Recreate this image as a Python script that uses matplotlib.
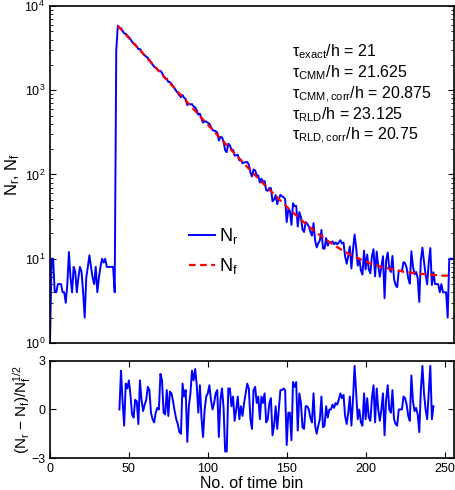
import numpy as np
import matplotlib.pyplot as plt

plt.rcParams['font.family'] = ['Liberation Sans', 'DejaVu Sans']
plt.rcParams['mathtext.fontset'] = 'custom'
plt.rcParams['mathtext.rm'] = 'Liberation Sans'
plt.rcParams['mathtext.it'] = 'Liberation Sans:italic'
plt.rcParams['mathtext.bf'] = 'Liberation Sans:bold'
plt.rcParams['axes.linewidth'] = 1.2

# N_r counts before the pulse, bins 0..41
nr_background = [1, 10, 10, 4, 4, 5, 5, 5, 4, 4,
                 3, 5, 12, 6, 4, 8, 7, 4, 6, 8,
                 7, 4, 2, 6, 8, 11, 8, 6, 5, 8,
                 4, 6, 8, 10, 9, 10, 8, 8, 8, 8,
                 8, 4]
# rising edge and peak, bins 42..43
nr_peak = [3000, 5840]
# N_r counts after the residual range, bins 244..255
nr_tail = [5, 5, 5, 4, 5, 4, 4, 4, 2, 10, 10, 10]

# fitted curve N_f, bins 43..255
nf_fit = [5800, 5531, 5274, 5029, 4796, 4573, 4361, 4158, 3965, 3781,
          3605, 3438, 3279, 3127, 2982, 2843, 2711, 2586, 2466, 2351,
          2242, 2138, 2038, 1944, 1854, 1768, 1686, 1608, 1534, 1463,
          1395, 1330, 1269, 1210, 1154, 1101, 1050, 1001, 955, 911,
          869, 829, 790, 754, 719, 686, 654, 624, 595, 568,
          542, 517, 493, 470, 449, 428, 409, 390, 372, 355,
          339, 323, 309, 294.5, 281.1, 268.3, 256.1, 244.5, 233.4, 222.8,
          212.8, 203.2, 194.0, 185.2, 176.9, 169.0, 161.4, 154.2, 147.3, 140.7,
          134.4, 128.5, 122.8, 117.4, 112.1, 107.2, 102.5, 98.0, 93.7, 89.6,
          85.7, 82.0, 78.5, 75.1, 71.9, 68.9, 65.9, 63.2, 60.5, 58.0,
          55.6, 53.3, 51.1, 49.0, 47.0, 45.0, 43.2, 41.5, 39.8, 38.3,
          36.8, 35.3, 34.0, 32.7, 31.4, 30.3, 29.1, 28.1, 27.0, 26.1,
          25.1, 24.2, 23.4, 22.6, 21.8, 21.1, 20.4, 19.7, 19.1, 18.5,
          17.9, 17.3, 16.8, 16.3, 15.8, 15.4, 14.9, 14.5, 14.1, 13.7,
          13.4, 13.0, 12.7, 12.4, 12.1, 11.8, 11.5, 11.3, 11.0, 10.8,
          10.6, 10.4, 10.2, 10.0, 9.8, 9.6, 9.4, 9.3, 9.1, 9.0,
          8.8, 8.7, 8.6, 8.5, 8.4, 8.2, 8.1, 8.0, 7.9, 7.9,
          7.8, 7.7, 7.6, 7.5, 7.5, 7.4, 7.3, 7.3, 7.2, 7.2,
          7.1, 7.0, 7.0, 7.0, 6.9, 6.9, 6.8, 6.8, 6.8, 6.7,
          6.7, 6.7, 6.6, 6.6, 6.6, 6.5, 6.5, 6.5, 6.5, 6.4,
          6.4, 6.4, 6.4, 6.4, 6.35, 6.3, 6.3, 6.3, 6.3, 6.3,
          6.3, 6.25, 6.2]

# residuals (N_r - N_f)/N_f^(1/2), bins 44..243
resid = [0.0, 2.4, 0.5, -1.0, 1.6, 1.3, 1.8, 0.9, -0.3, -0.5,
         0.6, 0.5, -0.9, 1.8, 0.6, -0.1, 0.3, 0.6, 1.4, 1.2,
         -0.2, -0.6, -0.8, -0.2, 0.1, 0.0, 2.2, 1.8, -0.2, -0.3,
         1.2, -0.4, 1.1, 1.0, 0.5, -0.1, -0.6, -0.9, -1.4, -1.5,
         1.6, 0.8, 1.2, -2.0, 0.2, 1.0, 2.4, 1.8, 2.5, 1.5,
         -0.2, 1.5, -0.5, -1.7, 0.0, 0.8, 1.0, 1.5, 0.6, 0.0,
         0.4, 1.0, 1.2, -1.7, 0.6, 1.3, 0.1, -2.6, -2.6, 1.3,
         1.3, 0.2, 0.8, -0.7, 0.0, 0.8, -0.6, 0.2, -0.4, 0.4,
         1.0, 1.6, 1.3, -0.6, -1.2, 1.2, 1.4, 0.4, 0.8, -0.6,
         0.8, 0.4, 1.0, -0.8, -0.6, 0.4, 0.7, -1.6, -1.0, 0.2,
         -1.2, 0.0, 1.2, 1.2, 1.3, 1.2, -2.2, -0.2, -0.2, -1.9,
         1.7, 1.4, 1.7, -1.3, 1.0, 0.4, -1.1, -1.2, 0.2, 0.2,
         0.0, -0.5, -0.8, 1.0, -1.0, -1.5, -1.0, -0.6, 0.8, -1.1,
         -1.0, 0.2, -0.5, 0.0, 0.0, 0.3, 0.1, 0.4, 0.3, 0.6,
         1.0, 0.7, 0.9, -0.4, -0.9, -0.2, 0.8, -1.0, 0.6, 2.7,
         1.0, -0.6, 0.0, -0.8, -1.0, 1.0, -0.6, 0.7, -0.5, -0.7,
         0.7, 1.5, -0.8, 1.3, 0.0, -0.7, 0.0, 1.0, -1.6, 0.6,
         1.5, 0.0, -0.2, 1.2, -0.6, -0.9, -1.0, 0.0, 0.0, 0.0,
         0.8, 0.7, 0.3, -0.4, -0.7, 2.1, 0.5, -0.1, 0.1, -0.3,
         -1.4, 1.2, 2.7, 1.0, 0.0, -0.6, 1.0, 2.7, -0.6, 0.2]

tau_labels = [r'τ$_{\mathrm{exact}}$/h = 21',
              r'τ$_{\mathrm{CMM}}$/h = 21.625',
              r'τ$_{\mathrm{CMM,corr}}$/h = 20.875',
              r'τ$_{\mathrm{RLD}}$/h = 23.125',
              r'τ$_{\mathrm{RLD,corr}}$/h = 20.75']

# N_r in the fitted range follows from the residual definition
nf = np.array(nf_fit)
bins_fit = np.arange(43, 43 + len(nf))
bins_res = np.arange(44, 44 + len(resid))
nf_res = nf[1:1 + len(resid)]
nr_mid = nf_res + np.array(resid) * np.sqrt(nf_res)
nr = np.concatenate([nr_background, nr_peak, nr_mid, nr_tail])
bins = np.arange(len(nr))

blue = '#0000ff'
red = '#ff0000'

fig = plt.figure(figsize=(4.56, 4.9), dpi=100)
ax1 = fig.add_axes([0.1096, 0.3, 0.886, 0.6878])
ax2 = fig.add_axes([0.1096, 0.0653, 0.886, 0.198])

ax1.semilogy(bins, nr, color=blue, lw=1.4, label=r'N$_\mathrm{r}$')
ax1.semilogy(bins_fit, nf, color=red, ls=(0, (3, 2)), lw=1.6,
             label=r'N$_\mathrm{f}$')
ax1.set_xlim(0, 256)
ax1.set_ylim(1, 1e4)
ax1.set_xticks([])
ax1.tick_params(axis='y', which='both', direction='in', right=True, labelsize=9)
ax1.tick_params(axis='y', which='major', length=4)
ax1.tick_params(axis='y', which='minor', length=2)
ax1.set_ylabel(r'N$_\mathrm{r}$, N$_\mathrm{f}$', fontsize=12)
ax1.yaxis.set_label_coords(-0.069, 0.5)

for i, label in enumerate(tau_labels):
    ax1.text(0.60, 0.8496 - i * 0.0618, label, transform=ax1.transAxes,
             fontsize=11.5, va='baseline')

ax1.legend(loc='upper left', bbox_to_anchor=(0.344, 0.347), frameon=False,
           fontsize=13, handlelength=1.45, handletextpad=0.2,
           labelspacing=0.55, borderpad=0, borderaxespad=0)

ax2.plot(bins_res, resid, color=blue, lw=1.4)
ax2.set_xlim(0, 256)
ax2.set_ylim(-3, 3)
ax2.set_yticks([-3, 0, 3])
ax2.set_xticks([0, 50, 100, 150, 200, 250])
ax2.tick_params(direction='in', top=True, right=True, labelsize=9, length=4)
ax2.set_xlabel('No. of time bin', fontsize=11.5, labelpad=1)
ax2.set_ylabel(r'(N$_\mathrm{r}$ − N$_\mathrm{f}$)/N$_\mathrm{f}^{1/2}$',
               fontsize=11)
ax2.yaxis.set_label_coords(-0.042, 0.5)

fig.savefig('out.png', dpi=100)
